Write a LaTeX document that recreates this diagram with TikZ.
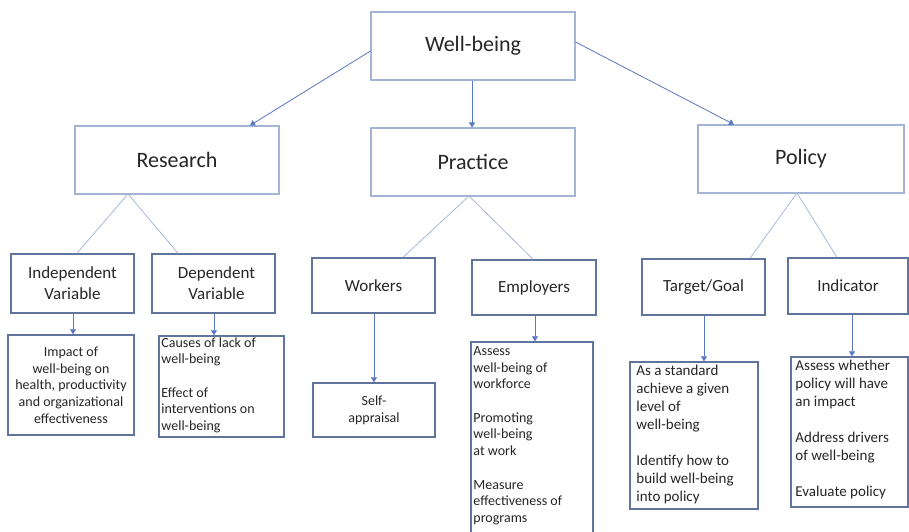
\documentclass[tikz,border=0pt]{standalone}
\usepackage{fontspec}
\setmainfont{Carlito}
\usetikzlibrary{arrows.meta}

\definecolor{topline}{HTML}{A3B4D6}
\definecolor{boxline}{HTML}{61749E}
\definecolor{arrowc}{HTML}{5877C4}
\definecolor{treec}{HTML}{A9B9D9}
\definecolor{ink}{HTML}{262626}

\tikzset{
  topbox/.style={draw=topline, line width=1.1pt, fill=white, inner sep=0pt,
    font=\fontsize{22}{26}\selectfont, text=ink},
  midbox/.style={draw=boxline, line width=1.5pt, fill=white, inner sep=0pt,
    align=center, font=\fontsize{17}{21}\selectfont, text=ink},
  leafbox/.style={draw=boxline, line width=1.5pt, fill=white, inner sep=0pt,
    align=center, font=\fontsize{14}{16.7}\selectfont, text=ink},
  listtext/.style={inner sep=0pt, anchor=north west, text=ink},
  link/.style={draw=arrowc, line width=0.8pt,
    -{Triangle[length=5pt,width=6pt,fill=arrowc]}},
  branch/.style={draw=treec, line width=0.8pt},
}

\begin{document}
\begin{tikzpicture}[x=1pt,y=-1pt]
\clip (0,0) rectangle (909,531);
\fill[white] (0,0) rectangle (909,531);

% top level
\node[topbox, minimum width=204pt, minimum height=68pt] (wb) at (473,46) {Well-being};
\node[topbox, minimum width=204pt, minimum height=68pt] (res) at (177,160) {Research};
\node[topbox, minimum width=204pt, minimum height=68pt] (pra) at (473,162) {Practice};
\node[topbox, minimum width=206pt, minimum height=68pt] (pol) at (801,159) {Policy};

% second level
\node[midbox, minimum width=123pt, minimum height=59pt] (ind) at (72.5,283.5) {Independent\\Variable};
\node[midbox, minimum width=123pt, minimum height=59pt] (dep) at (213.5,283.5) {\hspace*{6pt}Dependent\\\hspace*{6pt}Variable};
\node[midbox, minimum width=123pt, minimum height=55pt] (wor) at (373.5,285.5) {Workers};
\node[midbox, minimum width=124pt, minimum height=55pt] (emp) at (534,287.5) {Employers};
\node[midbox, minimum width=123pt, minimum height=56pt] (tar) at (703.5,287) {Target/Goal};
\node[midbox, minimum width=120pt, minimum height=56pt] (indc) at (848,286) {Indicator};

% third level
\node[leafbox, minimum width=126pt, minimum height=100pt] (imp) at (71,385)
  {Impact of\\well-being on\\health, productivity\\and organizational\\effectiveness};
\node[leafbox, minimum width=125pt, minimum height=101pt] (cau) at (221.5,386.5) {};
\node[leafbox, minimum width=122pt, minimum height=54pt] (self) at (374,410)
  {Self-\\appraisal};
\node[leafbox, minimum width=122pt, minimum height=200pt] (elist) at (532,442) {};
\node[leafbox, minimum width=128pt, minimum height=147pt] (tlist) at (694,435.5) {};
\node[leafbox, minimum width=117pt, minimum height=150pt] (ilist) at (849.5,432) {};

% list texts
\node[listtext, font=\fontsize{14}{16.7}\selectfont, align=left] (caut)
  at ([xshift=3pt,yshift=-2pt]cau.north west)
  {Causes of lack of\\well-being\\[16.7pt]Effect of\\interventions on\\well-being};
\node[listtext, font=\fontsize{14}{16.7}\selectfont, align=left] (elistt)
  at ([xshift=3pt,yshift=-5pt]elist.north west)
  {Assess\\well-being of\\workforce\\[16.7pt]Promoting\\well-being\\at work\\[16.7pt]Measure\\effectiveness of\\programs};
\node[listtext, font=\fontsize{15}{18}\selectfont, align=left] (tlistt)
  at ([xshift=7pt,yshift=-4pt]tlist.north west)
  {As a standard\\achieve a given\\level of\\well-being\\[18pt]Identify how to\\build well-being\\into policy};
\node[listtext, font=\fontsize{15}{18}\selectfont, align=left] (ilistt)
  at ([xshift=5pt,yshift=-4pt]ilist.north west)
  {Assess whether\\policy will have\\an impact\\[18pt]Address drivers\\of well-being\\[18pt]Evaluate policy};

% branch points
\coordinate (resA) at (128,194);
\coordinate (praA) at (469,196);
\coordinate (polA) at (797,193);

\draw[branch] (resA) -- (ind.north -| 77,0);
\draw[branch] (resA) -- (dep.north -| 178,0);
\draw[branch] (praA) -- (wor.north -| 403,0);
\draw[branch] (praA) -- (emp.north -| 533,0);
\draw[branch] (polA) -- (tar.north -| 750,0);
\draw[branch] (polA) -- (indc.north -| 837,0);

% arrows from the root
\draw[link] (wb.west |- 0,51) -- (res.north -| 250,0);
\draw[link] (wb.south -| 472,0) -- (pra.north -| 472,0);
\draw[link] (wb.east |- 0,42) -- (pol.north -| 734,0);

% arrows to the detail boxes
\draw[link] (ind.south -| 73,0) -- (imp.north -| 73,0);
\draw[link] (dep.south -| 214,0) -- (cau.north -| 214,0);
\draw[link] (wor.south -| 374,0) -- (self.north -| 374,0);
\draw[link] (emp.south -| 535,0) -- (elist.north -| 535,0);
\draw[link] (tar.south -| 704,0) -- (tlist.north -| 704,0);
\draw[link] (indc.south -| 852,0) -- (ilist.north -| 852,0);
\end{tikzpicture}
\end{document}
